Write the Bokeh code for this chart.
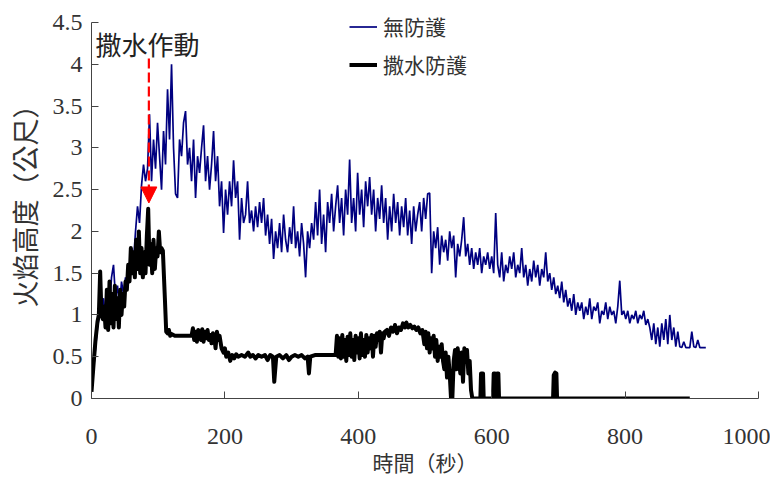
from bokeh.plotting import figure
from bokeh.models import (Arrow, NormalHead, Label, Legend, LegendItem, Range1d,
                          FixedTicker, CustomJSTickFormatter)
from bokeh.embed import file_html
from bokeh.resources import INLINE

# ---------------- data ----------------
# 無防護 (unprotected): flame height sampled every 3 s
blue_vals = [
    0.1, 0.35, 0.6, 0.85, 1.0,
    1.05, 1.2, 0.95, 1.3, 1.1, 1.45, 1.6, 1.2, 1.35, 1.1, 1.4, 1.25, 1.45, 1.35,
    1.6, 1.8, 1.65, 2.0, 2.3, 2.1, 2.55, 2.8, 2.6, 2.75,
    3.4, 2.6, 3.1, 2.75, 3.3, 2.9, 2.5, 3.2, 2.8, 3.7, 3.1, 4.0, 3.0, 2.45,
    2.4, 3.1, 2.9, 3.3, 3.44, 2.8, 3.0, 2.6, 3.1, 2.4, 2.9,
    2.7, 3.0, 3.27, 2.6, 2.9, 2.5, 2.8, 3.2, 2.6, 2.9, 2.3, 2.6, 1.98,
    2.5, 2.2, 2.6, 2.3, 2.85, 2.4, 2.6, 1.9, 2.4, 2.1,
    2.2, 2.6, 2.1, 2.25, 2.0, 2.3, 2.05, 2.35, 2.1, 2.4,
    1.95, 2.2, 1.85, 2.15, 1.67, 2.0, 1.8, 2.1, 1.75, 2.2, 1.9, 1.75, 2.05, 1.85,
    2.3, 1.8, 2.0, 1.7, 2.1, 1.85, 1.45, 2.0, 1.8, 2.1,
    1.9, 2.35, 1.95, 2.5, 1.85, 2.2, 1.75, 2.35, 2.1, 2.45, 2.0, 2.3, 2.55, 2.1,
    2.4, 1.95, 2.5, 2.2, 2.86, 2.1,
    2.4, 2.0, 2.7, 2.2, 2.5, 2.05, 2.6, 2.3, 2.65, 2.2, 2.5, 2.0, 2.4, 2.15, 2.55,
    2.1, 2.4, 1.9, 2.3, 2.0, 2.45, 2.1, 2.35, 1.95, 2.3, 2.05, 2.4, 1.95, 2.25,
    1.85, 2.3, 2.0, 2.2,
    2.35, 2.0, 2.4, 2.15, 2.45, 2.46, 1.5,
    2.0, 1.8, 2.05, 1.6, 1.95, 1.75, 1.9, 1.65, 2.0, 1.8, 1.95, 1.45, 1.85, 1.7, 1.9, 2.17,
    1.7, 1.85, 1.6, 1.8, 1.55, 1.75, 1.6, 1.8, 1.5, 1.7, 1.6, 1.75, 1.55, 1.7, 1.5, 2.22,
    1.6, 1.45, 1.75, 1.4, 1.6, 1.5, 1.7, 1.55, 1.75, 1.45, 1.6, 1.5, 1.8, 1.45, 1.6,
    1.35, 1.55, 1.4, 1.65, 1.45, 1.6, 1.35, 1.55, 1.45, 1.75, 1.4,
    1.5, 1.3, 1.45, 1.25, 1.35, 1.2, 1.4, 1.15, 1.3, 1.1, 1.2, 1.05, 1.25, 1.0, 1.15, 1.05,
    1.15, 0.95, 1.1, 1.0, 1.2, 0.95, 1.1, 1.05, 1.15, 0.9, 1.05, 1.0, 1.15, 0.95, 1.1,
    1.0, 1.05, 0.9, 1.1, 1.41,
    1.0, 1.05, 0.95, 1.05, 0.9, 1.0, 0.95, 1.05, 0.9, 1.0, 0.95, 1.05, 0.88, 0.95,
    0.85, 0.7, 0.9, 0.65, 0.85, 0.62, 0.9, 0.7, 0.95, 0.65, 1.0, 0.7, 0.85, 0.62, 0.8, 0.62,
    0.61, 0.68, 0.61, 0.61, 0.61, 0.8, 0.62, 0.61, 0.7, 0.61, 0.61, 0.61, 0.61,
]
blue_t = [3 * i for i in range(len(blue_vals))]

# 撒水防護 (sprinkler protected)
black_t = [
    0, 3, 6, 9, 11, 13, 15, 17,
    19, 21, 23, 25, 27, 29, 31, 33, 35, 37, 39, 41, 43, 45, 47, 49, 51, 53,
    55, 57, 59, 61, 63, 65, 67, 69, 71, 73, 75, 77, 79, 81, 83, 85, 87, 89, 91, 93,
    95, 97, 99, 101, 103, 105, 107, 110, 112, 114, 116, 118, 120, 125, 150,
    152, 154, 156, 158, 160, 162, 164, 166, 168, 170, 172, 174, 176, 178, 180, 182,
    184, 186, 188, 190, 192, 195, 198, 200, 202, 205, 208, 211, 214, 217, 220, 225,
    230, 235, 238, 242, 246, 250, 255, 260, 264, 268, 272, 274, 277, 282, 287, 292,
    296, 300, 305, 310, 315, 320, 324, 326, 328, 335, 366,
    368, 370, 372, 374, 376, 378, 380, 382, 384, 386, 388, 390, 392, 394, 396, 398,
    400, 402, 404, 406, 408, 410, 412, 414, 416, 418, 420, 422, 424, 426, 428, 430,
    432, 434, 436, 438, 440,
    443, 446, 449, 452, 455, 458, 461, 464, 467, 470, 472, 475, 478, 481, 484, 487,
    490, 493, 496,
    499, 501, 503, 505, 507, 509, 511, 513, 515, 517, 519, 521, 523, 525, 527,
    529, 531, 533, 535, 537, 539, 541, 543, 545, 547, 549, 551, 553, 555, 557, 559,
    561, 563, 565, 567, 569, 571,
    583, 584, 587, 588, 602, 603, 605, 606, 607, 608, 610, 611,
    692, 693, 695, 697, 698, 897,
]
black_vals = [
    0.08, 0.4, 0.7, 0.92, 1.0, 1.52, 1.0, 0.95,
    1.1, 0.85, 1.3, 0.82, 1.4, 0.9, 1.25, 0.85, 1.35, 0.95, 1.2, 0.85, 1.3, 1.0, 1.25, 1.1, 1.4, 1.3,
    1.6, 1.4, 1.8, 1.5, 1.75, 1.45, 1.9, 1.55, 2.0, 1.5, 1.8, 1.45, 1.75, 1.5, 1.95, 2.27, 1.6, 1.85, 1.5, 1.9,
    1.55, 1.8, 1.7, 2.0, 1.75, 1.8, 1.77, 1.2, 0.8, 0.78, 0.82, 0.75, 0.77, 0.75, 0.75,
    0.84, 0.7, 0.8, 0.68, 0.82, 0.75, 0.7, 0.83, 0.68, 0.8, 0.72, 0.82, 0.7, 0.76, 0.66, 0.78,
    0.75, 0.6, 0.8, 0.7, 0.75, 0.6, 0.55, 0.6, 0.5, 0.55, 0.45, 0.52, 0.48, 0.53, 0.5, 0.52,
    0.5, 0.55, 0.5, 0.52, 0.48, 0.52, 0.5, 0.52, 0.46, 0.52, 0.5, 0.2, 0.5, 0.52, 0.48, 0.52,
    0.46, 0.5, 0.52, 0.5, 0.52, 0.48, 0.5, 0.3, 0.5, 0.52, 0.52,
    0.75, 0.5, 0.72, 0.48, 0.76, 0.5, 0.7, 0.45, 0.74, 0.52, 0.78, 0.5, 0.7, 0.46, 0.75, 0.55,
    0.72, 0.48, 0.78, 0.52, 0.7, 0.5, 0.76, 0.55, 0.72, 0.6, 0.76, 0.5, 0.75, 0.62, 0.78, 0.7,
    0.8, 0.55, 0.78, 0.72, 0.8,
    0.82, 0.75, 0.85, 0.8, 0.88, 0.78, 0.85, 0.82, 0.9, 0.85, 0.91, 0.85, 0.88, 0.84, 0.86, 0.82,
    0.85, 0.78, 0.82,
    0.65, 0.8, 0.6, 0.78, 0.55, 0.72, 0.6, 0.75, 0.5, 0.7, 0.45, 0.62, 0.5, 0.65, 0.45,
    0.35, 0.55, 0.25, 0.5, 0.3, 0.0, 0.0, 0.45, 0.58, 0.35, 0.6, 0.45, 0.3, 0.55, 0.2, 0.6,
    0.5, 0.58, 0.3, 0.45, 0.1, 0.0,
    0.0, 0.3, 0.3, 0.0, 0.0, 0.3, 0.3, 0.0, 0.0, 0.3, 0.3, 0.0,
    0.0, 0.28, 0.31, 0.3, 0.0, 0.0,
]

x_ticks = [0, 200, 400, 600, 800, 1000]
y_ticks = [0, 0.5, 1, 1.5, 2, 2.5, 3, 3.5, 4, 4.5]

series_names = ["無防護", "撒水防護"]
annot_text = "撒水作動"
annot_time = 86
annot_top = 4.07
annot_tip = 2.34
x_title = "時間（秒）"
y_title = "火焰高度（公尺）"

CJK = "Noto Sans CJK TC"
SERIF = "'Liberation Serif', 'DejaVu Serif', serif"
TXT = "#333333"

p = figure(frame_width=667, frame_height=398, output_backend="svg", toolbar_location=None,
           x_range=Range1d(0, 1000), y_range=Range1d(0, 4.763),
           min_border_left=91, min_border_right=12, min_border_top=0,
           min_border_bottom=60)
p.outline_line_color = None
p.xgrid.grid_line_color = None
p.ygrid.grid_line_color = None
p.background_fill_color = "white"
p.border_fill_color = "white"

r_blue = p.line(blue_t, blue_vals, line_color="#000080", line_width=1.7)
r_black = p.line(black_t, black_vals, line_color="black", line_width=4,
                 line_join="round")

for ax in (p.xaxis[0], p.yaxis[0]):
    ax.axis_line_color = "#444444"
    ax.major_tick_line_color = "#444444"
    ax.major_tick_in = 7
    ax.major_tick_out = 0
    ax.minor_tick_line_color = None
    ax.major_label_text_font = SERIF
    ax.major_label_text_font_size = "24px"
    ax.major_label_text_color = TXT
    ax.axis_label_text_font = CJK
    ax.axis_label_text_font_style = "normal"
    ax.axis_label_text_color = TXT
    ax.formatter = CustomJSTickFormatter(code="return tick.toString();")

p.yaxis.bounds = (0, 4.5)
p.xaxis.ticker = FixedTicker(ticks=x_ticks)
p.yaxis.ticker = FixedTicker(ticks=y_ticks)
p.xaxis.axis_label = x_title
p.yaxis.axis_label = y_title
p.xaxis.axis_label_text_font_size = "21px"
p.yaxis.axis_label_text_font_size = "27px"
p.xaxis.major_label_standoff = 30
p.xaxis.axis_label_standoff = 0
p.yaxis.major_label_standoff = 9
p.yaxis.axis_label_standoff = 6

# annotation arrow
p.add_layout(Arrow(x_start=annot_time, y_start=annot_top, x_end=annot_time, y_end=annot_tip,
                   line_color="#FF0000", line_width=2.2, line_dash="10 4",
                   end=NormalHead(size=16, fill_color="#FF0000", line_color="#FF0000")))
p.add_layout(Label(x=6, y=4.25, text=annot_text, text_font=CJK, text_font_size="26px",
                   text_color="#222222", text_baseline="middle", text_align="left"))

legend = Legend(items=[LegendItem(label=series_names[0], renderers=[r_blue]),
                       LegendItem(label=series_names[1], renderers=[r_black])],
                location=(258, 319), orientation="vertical",
                background_fill_alpha=0, border_line_color=None,
                padding=0, margin=0, spacing=8,
                glyph_width=28, glyph_height=21, label_height=21,
                label_standoff=6, label_text_font=CJK, label_text_font_size="21px",
                label_text_color=TXT)
p.add_layout(legend)

open("out.html", "w").write(file_html(p, INLINE))
